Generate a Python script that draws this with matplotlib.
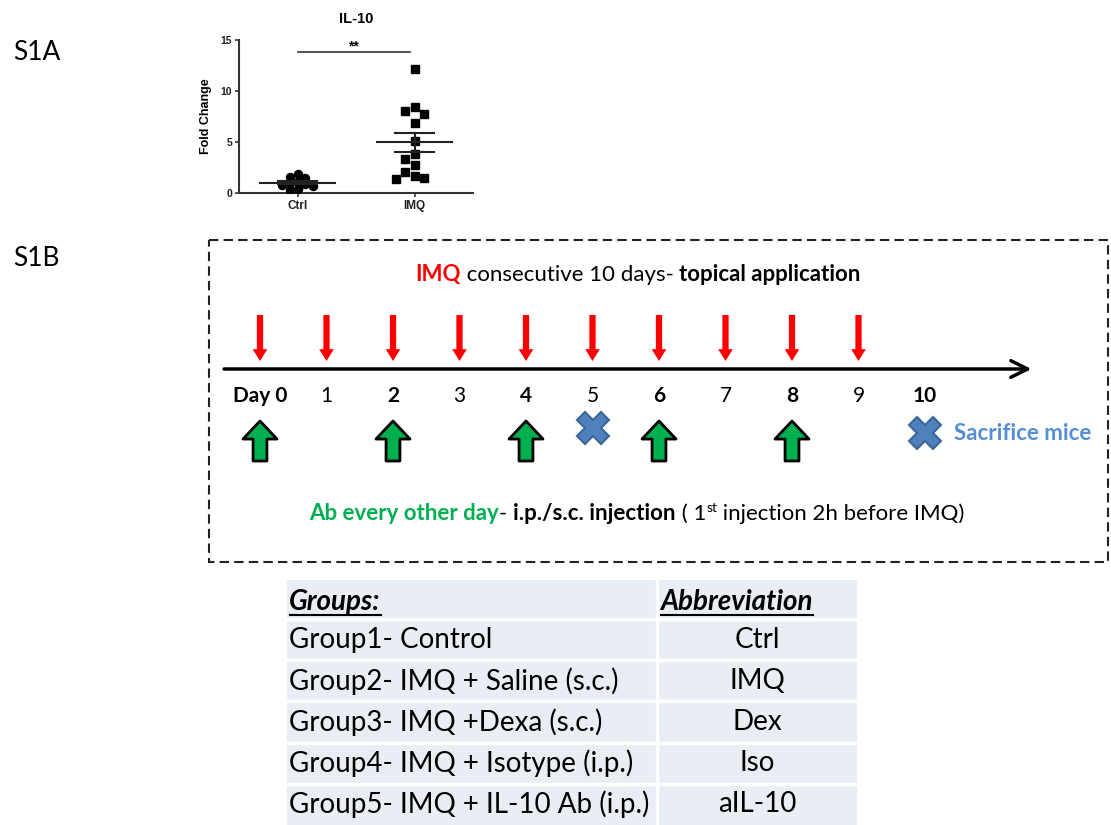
import numpy as np
import matplotlib.pyplot as plt
from matplotlib.patches import Rectangle

# ---- data ----
ctrl_fc = [1.9, 1.6, 1.5, 1.1, 1.0, 0.9, 0.8, 0.7, 0.4, 0.3]
imq_fc = [12.2, 8.4, 8.0, 7.7, 6.9, 5.05, 3.8, 3.35, 2.77, 2.1, 1.63, 1.47, 1.4]
scatter_groups = ['Ctrl', 'IMQ']

imq_days = [0, 1, 2, 3, 4, 5, 6, 7, 8, 9]
ab_days = [0, 2, 4, 6, 8]
sacrifice_days = [5, 10]
day_labels = ['Day 0', '1', '2', '3', '4', '5', '6', '7', '8', '9', '10']
bold_days = [0, 2, 4, 6, 8, 10]

groups = ['Group1- Control', 'Group2- IMQ + Saline (s.c.)', 'Group3- IMQ +Dexa (s.c.)',
          'Group4- IMQ + Isotype (i.p.)', 'Group5- IMQ + IL-10 Ab (i.p.)']
abbrevs = ['Ctrl', 'IMQ', 'Dex', 'Iso', 'aIL-10']

FONT = ['Lato', 'DejaVu Sans']
ARIAL = ['Liberation Sans', 'DejaVu Sans']

fig = plt.figure(figsize=(11.11, 8.25), dpi=100)
W, H = 1111, 825

# canvas axes in pixel units
ax0 = fig.add_axes([0, 0, 1, 1])
ax0.set_xlim(0, W)
ax0.set_ylim(H, 0)
ax0.axis('off')
renderer = fig.canvas.get_renderer()


def text_width(s, **kw):
    t = ax0.text(0, 0, '|' + s + '|', **kw)
    w1 = t.get_window_extent(renderer).width
    t.remove()
    t = ax0.text(0, 0, '||', **kw)
    w2 = t.get_window_extent(renderer).width
    t.remove()
    return w1 - w2


def rich_text(x, y, pieces, ha='left'):
    widths = [text_width(s, **kw) for s, kw, dy in pieces]
    if ha == 'center':
        x -= sum(widths) / 2
    for (s, kw, dy), w in zip(pieces, widths):
        ax0.text(x, y + dy, s, ha='left', va='baseline', **kw)
        x += w


ax0.text(13, 53, 'S1A', fontsize=19, family=FONT, va='center', ha='left')
ax0.text(13, 258, 'S1B', fontsize=19, family=FONT, va='center', ha='left')

# ---- S1A scatter ----
ax = fig.add_axes([239 / W, 1 - 193 / H, 234 / W, 153 / H])


def swarm(vals, thresh, step):
    placed = []
    out = []
    for v in vals:
        for k in [0, -1, 1, -2, 2, -3, 3, -4, 4]:
            if all(abs(v - pv) >= thresh or pk != k for pv, pk in placed):
                break
        placed.append((v, k))
        out.append(k * step)
    return np.array(out)


for i, (vals, mk, ms, th, st) in enumerate([(ctrl_fc, 'o', 5.8, 0.5, 0.068),
                                            (imq_fc, 's', 5.3, 0.8, 0.078)]):
    vals = np.array(vals)
    xs = i + swarm(vals, th, st)
    ax.plot(xs, vals, mk, color='black', ms=ms, ls='none', zorder=3)
    m = vals.mean()
    se = vals.std(ddof=1) / np.sqrt(len(vals))
    ax.plot([i - 0.32, i + 0.32], [m, m], color='#222222', lw=1.5, zorder=4)
    ax.plot([i - 0.17, i + 0.17], [m + se, m + se], color='#222222', lw=1.5, zorder=4)
    ax.plot([i - 0.17, i + 0.17], [m - se, m - se], color='#222222', lw=1.5, zorder=4)
    ax.plot([i, i], [m - se, m + se], color='#222222', lw=1.5, zorder=4)

ax.plot([0, 0.96], [13.8, 13.8], color='#333333', lw=1.2)
ax.text(0.48, 13.7, '**', ha='center', va='bottom', fontsize=10, fontweight='bold', family=ARIAL)
ax.set_xlim(-0.5, 1.5)
ax.set_ylim(0, 15)
ax.set_yticks([0, 5, 10, 15])
ax.set_xticks([0, 1])
ax.set_xticklabels(scatter_groups)
for s in ['top', 'right']:
    ax.spines[s].set_visible(False)
for s in ['left', 'bottom']:
    ax.spines[s].set_linewidth(1.5)
    ax.spines[s].set_color('#333333')
ax.tick_params(length=3, width=1.2, colors='#333333', pad=2)
for lab in ax.get_yticklabels():
    lab.set_fontsize(7.5)
for lab in ax.get_xticklabels():
    lab.set_fontsize(8.5)
for lab in ax.get_xticklabels() + ax.get_yticklabels():
    lab.set_fontweight('bold')
    lab.set_family(ARIAL)
    lab.set_color('#222222')
ax.set_ylabel('Fold Change', fontsize=9, fontweight='bold', family=ARIAL, labelpad=6)
ax.set_title('IL-10', fontsize=10.5, fontweight='bold', family=ARIAL, pad=12)
ax.patch.set_alpha(0)

# ---- S1B timeline ----
ax0.add_patch(Rectangle((209, 240), 899, 322, fill=False, ec='#222222', lw=1.5,
                        ls=(0, (4.5, 2.5))))

day0_px, px_per_day = 260, 66.5
box_l, box_r, box_t, box_b = 209, 1108, 240, 562
axt = fig.add_axes([box_l / W, 1 - box_b / H, (box_r - box_l) / W, (box_b - box_t) / H])
axt.set_xlim((box_l - day0_px) / px_per_day, (box_r - day0_px) / px_per_day)
axt.set_ylim(box_b, box_t)
axt.axis('off')

axt.annotate('', xy=(11.6, 369), xytext=(-0.54, 369),
             arrowprops=dict(arrowstyle='->,head_length=0.6,head_width=0.3', mutation_scale=20,
                             lw=2.5, color='black', shrinkA=0, shrinkB=0))
for d in imq_days:
    axt.annotate('', xy=(d, 361), xytext=(d, 315),
                 arrowprops=dict(arrowstyle='simple,head_length=0.85,head_width=1.05,tail_width=0.45',
                                 mutation_scale=10, fc='#FF0000', ec='none', shrinkA=0, shrinkB=0))
for d in ab_days:
    axt.annotate('', xy=(d, 421), xytext=(d, 461),
                 arrowprops=dict(arrowstyle='simple,head_length=1.3,head_width=2.45,tail_width=1.0',
                                 mutation_scale=10, fc='#00B050', ec='black', lw=2,
                                 shrinkA=0, shrinkB=0))
for i, lab in enumerate(day_labels):
    axt.text(i, 396, lab, ha='center', va='center', fontsize=15, family=FONT,
             fontweight='bold' if i in bold_days else 'normal', color='black')
axt.plot(sacrifice_days, [428, 433], 'X', ms=23, mfc='#4F81BD', mec='#3A6597', mew=1.5,
         ls='none')
axt.annotate('Sacrifice mice', xy=(sacrifice_days[-1], 433), xytext=(21, 0),
             textcoords='offset points', va='center', ha='left', fontsize=16,
             fontweight='bold', family=FONT, color='#558ED5')

reg = dict(fontsize=16, family=FONT, color='black')
bld = dict(fontsize=16, family=FONT, color='black', fontweight='bold')
rich_text(638, 281, [
    ('IMQ', dict(fontsize=16, family=FONT, color='#FF0000', fontweight='bold'), 0),
    (' consecutive 10 days- ', reg, 0),
    ('topical application', bld, 0),
], ha='center')
rich_text(637, 520, [
    ('Ab every other day', dict(fontsize=16, family=FONT, color='#00B050', fontweight='bold'), 0),
    ('- ', reg, 0),
    ('i.p./s.c. injection', bld, 0),
    (' ( 1', reg, 0),
    ('st', dict(fontsize=10, family=FONT, color='black'), -8),
    (' injection 2h before IMQ)', reg, 0),
], ha='center')

# ---- table ----
tl, tr, tt, tb, tc = 287, 857, 580, 825, 657
ax0.add_patch(Rectangle((tl, tt), tr - tl, tb - tt, fc='#E9EDF4', ec='none'))
header_h = 39
row_h = (tb - tt - header_h) / len(groups)
ax0.plot([tc, tc], [tt, tb], color='white', lw=2.5)
for i in range(len(groups)):
    yy = tt + header_h + i * row_h
    ax0.plot([tl, tr], [yy, yy], color='white', lw=2.5)

hdr = dict(fontsize=20, family=FONT, fontweight='bold', style='italic', color='black')
for x0, s in [(tl + 2, 'Groups:'), (tc + 3, 'Abbreviation')]:
    ax0.text(x0, tt + 30, s, ha='left', va='baseline', **hdr)
    w = text_width(s, **hdr)
    ax0.plot([x0 + 1, x0 + w], [tt + 35, tt + 35], color='black', lw=1.5)
for i, (g, a) in enumerate(zip(groups, abbrevs)):
    yc = tt + header_h + (i + 0.5) * row_h
    ax0.text(tl + 2, yc, g, ha='left', va='center', fontsize=20, family=FONT)
    ax0.text((tc + tr) / 2, yc, a, ha='center', va='center', fontsize=20, family=FONT)

fig.savefig('out.png', dpi=100)
